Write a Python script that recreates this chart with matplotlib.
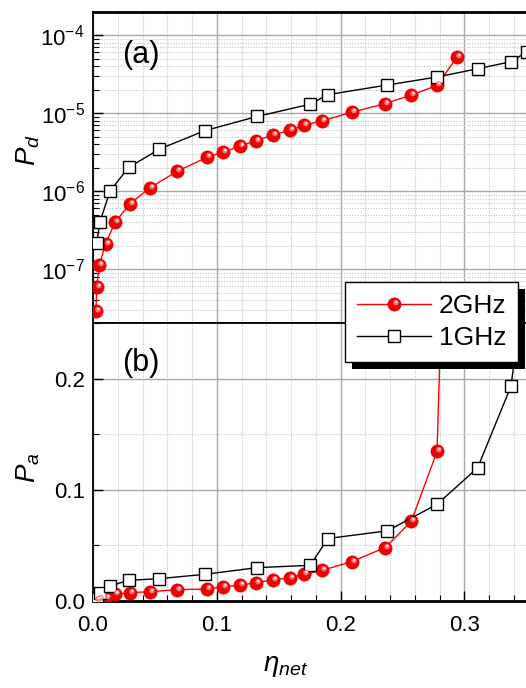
import numpy as np
import matplotlib
matplotlib.use("Agg")
import matplotlib.pyplot as plt
from matplotlib.path import Path
from matplotlib.patches import Rectangle
from matplotlib.ticker import MultipleLocator, LogLocator, NullFormatter
from matplotlib.lines import Line2D

plt.rcParams['font.family'] = ['Liberation Sans', 'DejaVu Sans']
plt.rcParams['mathtext.fontset'] = 'custom'
plt.rcParams['mathtext.rm'] = 'Liberation Sans'
plt.rcParams['mathtext.it'] = 'Liberation Sans:italic'
plt.rcParams['mathtext.default'] = 'regular'

# ---- data ----
eta_2g = [0.0024, 0.0030, 0.0051, 0.0102, 0.0178, 0.0299, 0.0463, 0.0679, 0.0918,
          0.1053, 0.1187, 0.1317, 0.1451, 0.1591, 0.1707, 0.1852, 0.2089, 0.2359,
          0.2571, 0.2779, 0.2938]
pd_2g = [2.9e-8, 5.9e-8, 1.12e-7, 2.13e-7, 3.97e-7, 6.9e-7, 1.11e-6, 1.79e-6, 2.70e-6,
         3.16e-6, 3.78e-6, 4.42e-6, 5.22e-6, 6.0e-6, 6.95e-6, 7.97e-6, 1.02e-5, 1.32e-5,
         1.70e-5, 2.26e-5, 5.17e-5]
pa_2g = [0.0005, 0.001, 0.0015, 0.003, 0.006, 0.0075, 0.0084, 0.0102, 0.0108,
         0.0129, 0.0141, 0.0165, 0.0189, 0.021, 0.024, 0.0276, 0.0354, 0.048,
         0.0715, 0.1345, 0.72]

eta_1g = [0.0030, 0.0057, 0.0137, 0.0288, 0.0536, 0.0902, 0.1327, 0.1756, 0.1896,
          0.2378, 0.2781, 0.3107, 0.3376, 0.3505]
pd_1g = [2.18e-7, 4.05e-7, 1.0e-6, 2.01e-6, 3.45e-6, 5.94e-6, 9.06e-6, 1.30e-5, 1.72e-5,
         2.29e-5, 2.90e-5, 3.70e-5, 4.55e-5, 6.1e-5]
pa_1g = [0.002, 0.0075, 0.0135, 0.0186, 0.0201, 0.024, 0.030, 0.0321, 0.0562,
         0.0631, 0.0871, 0.1198, 0.1931, 0.30]

labels = ['2GHz', '1GHz']

W, H = 526, 688
fig = plt.figure(figsize=(W / 100, H / 100), dpi=100)

left = 93 / W
xmax = 0.36
width = xmax * 1238 / W
ax1 = fig.add_axes([left, (H - 323) / H, width, 311 / H])
ax2 = fig.add_axes([left, (H - 601) / H, width, 278 / H])

MS = 9.5  # sphere size (pt)


def offset_circle(cx, cy, r):
    p = Path.circle((cx, cy), r)
    m = np.max(np.abs(p.vertices))
    return p, m

hl1, m1 = offset_circle(0.22, 0.28, 0.42)
hl2, m2 = offset_circle(0.28, 0.36, 0.17)


def spheres(ax, x, y):
    ln, = ax.plot(x, y, '-', color='red', lw=1.0, marker='o', ms=MS,
                  mfc='#f00000', mec='#e00000', mew=0.5, zorder=3)
    h1, = ax.plot(x, y, ls='none', marker=hl1, ms=MS * m1, mfc='#ff7070', mew=0, zorder=4)
    h2, = ax.plot(x, y, ls='none', marker=hl2, ms=MS * m2, mfc='white', mew=0, zorder=5)
    return ln, h1, h2


def squares(ax, x, y):
    ln, = ax.plot(x, y, '-', color='black', lw=1.0, marker='s', ms=8,
                  mfc='white', mec='black', mew=1.0, zorder=3)
    return ln

r_handles = spheres(ax1, eta_2g, pd_2g)
b_handle = squares(ax1, eta_1g, pd_1g)
spheres(ax2, eta_2g, pa_2g)
squares(ax2, eta_1g, pa_1g)

ax1.set_yscale('log')
ax1.set_ylim(10 ** -7.69, 10 ** -3.705)
ax2.set_ylim(0, 0.25)
for ax in (ax1, ax2):
    ax.set_xlim(0, xmax)
    ax.xaxis.set_major_locator(MultipleLocator(0.1))
    ax.xaxis.set_minor_locator(MultipleLocator(0.02))
    ax.grid(True, which='major', color='#a8a8a8', lw=1.0, ls='-')
    ax.grid(True, which='minor', color='#cccccc', lw=0.8, ls=(0, (1.2, 1.2)))
    ax.set_axisbelow(True)
    for s in ax.spines.values():
        s.set_linewidth(1.3)
    ax.spines['right'].set_visible(False)
    ax.tick_params(which='both', direction='in', labelsize=16, top=False, right=False)
    ax.tick_params(which='major', length=7, width=1.0)
    ax.tick_params(which='minor', length=4, width=0.8)
    ax.tick_params(axis='y', pad=6)

ax1.yaxis.set_major_locator(LogLocator(base=10, numticks=20))
ax1.yaxis.set_minor_locator(LogLocator(base=10, subs=np.arange(2, 10), numticks=50))
ax1.yaxis.set_minor_formatter(NullFormatter())
ax1.tick_params(axis='x', which='both', bottom=False, labelbottom=False)
ax1.spines['top'].set_linewidth(2.0)

ax2.yaxis.set_major_locator(MultipleLocator(0.1))
ax2.yaxis.set_minor_locator(MultipleLocator(0.05))
ax2.yaxis.set_major_formatter(matplotlib.ticker.FormatStrFormatter('%.1f'))
ax2.xaxis.set_major_formatter(matplotlib.ticker.FormatStrFormatter('%.1f'))
ax2.tick_params(axis='x', pad=10)
ax2.spines['bottom'].set_linewidth(2.0)

ax1.text(141 / W, (H - 55) / H, '(a)', transform=fig.transFigure, fontsize=22,
         ha='center', va='center')
ax2.text(141 / W, (H - 363) / H, '(b)', transform=fig.transFigure, fontsize=22,
         ha='center', va='center')

fig.text(28 / W, (H - 150) / H, r'$\mathit{P}_{\mathit{d}}$', rotation=90, fontsize=20,
         ha='center', va='center')
fig.text(28 / W, (H - 468) / H, r'$\mathit{P}_{\mathit{a}}$', rotation=90, fontsize=20,
         ha='center', va='center')
fig.text(286 / W, (H - 666) / H, r'$\mathit{\eta}_{\mathit{net}}$', fontsize=20,
         ha='center', va='center')

leg = fig.legend([tuple(r_handles), b_handle], labels, loc='upper left',
                 bbox_to_anchor=(345 / W, 1 - 282 / H), borderaxespad=0,
                 fontsize=19, frameon=True, fancybox=False, edgecolor='black',
                 framealpha=1, handlelength=2.8, handletextpad=0.3,
                 labelspacing=0.3, borderpad=0.45, numpoints=1)
leg.get_frame().set_linewidth(1.0)
leg.set_zorder(10)

fig.canvas.draw()
bb = leg.get_window_extent()
off = 7
shadow = Rectangle((bb.x0 + off, bb.y0 - off), bb.width, bb.height,
                   transform=None, facecolor='black', edgecolor='none', zorder=9)
fig.patches.append(shadow)

fig.savefig('out.png', dpi=100)
